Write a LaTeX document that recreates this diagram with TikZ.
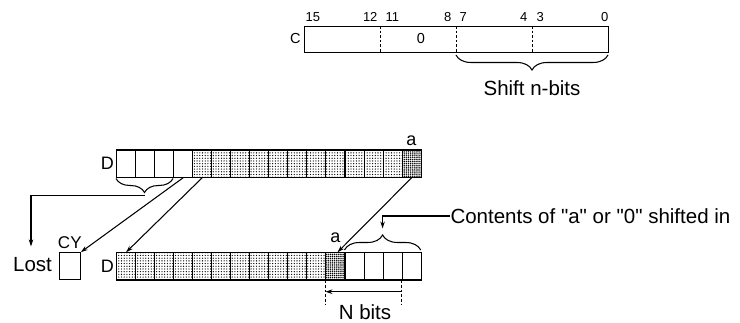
\documentclass[tikz,border=0pt]{standalone}
\usepackage{fontspec}
\setmainfont{Liberation Sans}[Ligatures=TeXOff]
\usetikzlibrary{patterns.meta,decorations.pathreplacing,arrows.meta}
\begin{document}
\begin{tikzpicture}[x=1pt,y=-1pt,
  line width=1.05pt,
  big/.style={font=\fontsize{20.5}{20.5}\selectfont, inner sep=0pt},
  mid/.style={font=\fontsize{18}{18}\selectfont, inner sep=0pt},
  small/.style={font=\fontsize{13}{13}\selectfont, inner sep=0pt},
  cbox/.style={font=\fontsize{14.5}{14.5}\selectfont, inner sep=0pt},
  cell/.style={draw, minimum width=19.04pt, minimum height=27.2pt, inner sep=0pt, anchor=north west},
  wcell/.style={cell},
  lcell/.style={cell, pattern={Dots[distance=2.7pt, radius=0.65pt]}},
  dcell/.style={cell, pattern={Dots[distance=1.9pt, radius=0.75pt]}},
  arr/.style={-{Stealth[length=7pt, width=4.5pt]}},
  dsh/.style={dash pattern=on 2.6pt off 2pt, line width=0.9pt},
  brc/.style={decorate, decoration={brace, amplitude=#1}},
]
\useasboundingbox (0,0) rectangle (740,323);

% ---- C register ----
\node[draw, minimum width=304pt, minimum height=25.8pt, inner sep=0pt, anchor=north west] (cr) at (304,26) {};
\coordinate (c1) at (380,26);
\coordinate (c2) at (456,26);
\coordinate (c3) at (532,26);
\draw[dsh] (c1) -- (c1 |- cr.south);
\draw[dsh] (c2) -- (c2 |- cr.south);
\draw[dsh] (c3) -- (c3 |- cr.south);
\node[cbox, anchor=east] (clab) at (301,39) {C};
\node[cbox] (czero) at (421,39) {0};
\node[small, anchor=base west] (n15) at (305,22) {15};
\node[small, anchor=base east] (n12) at (378,22) {12};
\node[small, anchor=base west] (n11) at (385,22) {11};
\node[small, anchor=base east] (n8) at (452,22) {8};
\node[small, anchor=base west] (n7) at (459,22) {7};
\node[small, anchor=base east] (n4) at (528,22) {4};
\node[small, anchor=base west] (n3) at (536,22) {3};
\node[small, anchor=base east] (n0) at (609,22) {0};
\draw[brc=15pt] (608,55) -- (456,55);
\node[big] (shift) at (532,88) {Shift n-bits};

% ---- top D register ----
\foreach \i in {0,...,15} {
  \ifnum\i<4 \def\st{wcell}\else\ifnum\i<15 \def\st{lcell}\else\def\st{dcell}\fi\fi
  \node[\st] (t\i) at (116+19.04*\i,149.5) {};
}
\node[mid, anchor=east] (dtop) at (114.5,163.5) {D};
\node[mid, anchor=south] (atop) at (411.3,146.5) {a};

% ---- bottom D register ----
\foreach \i in {0,...,15} {
  \ifnum\i<11 \def\st{lcell}\else\ifnum\i<12 \def\st{dcell}\else\def\st{wcell}\fi\fi
  \node[\st] (b\i) at (116+19.04*\i,252.3) {};
}
\node[mid, anchor=east] (dbot) at (114.5,266.3) {D};
\node[mid, anchor=south] (abot) at (335.5,243.5) {a};

% ---- CY and Lost ----
\node[draw, minimum width=21pt, minimum height=26.4pt, inner sep=0pt] (cy) at (69.8,265.9) {};
\node[font=\fontsize{17}{17}\selectfont, inner sep=0pt, anchor=south] (cylab) at (69.8,249) {CY};
\node[big] (lost) at (32.5,265) {Lost};

% lost brace
\draw[brc=14pt] (173,178.5) -- (116,178.5);
\coordinate (lb) at (144.5,195.5);
\coordinate (lp) at (31,246.5);
\draw[arr] (lb) -| (lp);

% shifting arrows
\draw[arr] (t3.south) -- (cy.north east);
\draw[arr] (t4.south) -- (b0.north);
\draw[arr] (t15.south) -- ([xshift=2pt]b11.north);

% contents brace and label
\draw[brc=15pt] (344.5,250) -- (420.7,250);
\node[big, anchor=west] (cont) at (450,216) {Contents of "a" or "0" shifted in};
\coordinate (ct) at (382.6,228.5);
\draw[arr] (cont.west) -| (ct);

% N bits
\coordinate (ny) at (0,305);
\coordinate (na) at (0,291.7);
\draw[dsh] (b11.south west) -- (b11.south west |- ny);
\draw[dsh] (b15.south west) -- (b15.south west |- ny);
\draw[arr] (b15.south west |- na) -- (b11.south west |- na);
\node[big] (nbits) at (365,312) {N bits};
\end{tikzpicture}
\end{document}
